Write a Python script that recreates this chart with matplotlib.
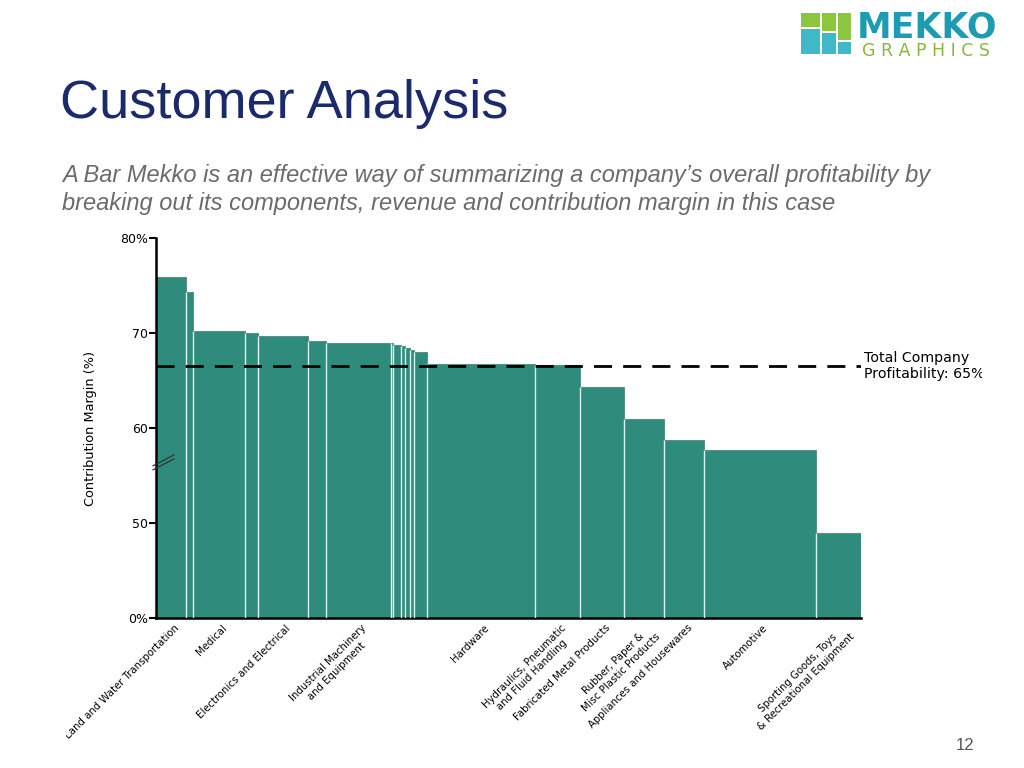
import matplotlib.pyplot as plt
from matplotlib.patches import Rectangle
from matplotlib.transforms import Bbox, TransformedBbox, blended_transform_factory
import numpy as np

# share of total revenue (%) and contribution margin (%) per segment
widths = [4.2, 1.0, 7.5, 1.8, 7.0, 2.6, 9.2, 0.4, 1.1, 0.6, 0.6, 0.6, 1.8,
          15.4, 6.4, 6.2, 5.7, 5.7, 15.8, 6.4]
margins = [75.9, 74.3, 70.2, 70.0, 69.7, 69.2, 68.95, 68.9, 68.75, 68.6, 68.4, 68.2, 68.0,
           66.75, 66.65, 64.3, 61.0, 58.7, 57.7, 48.9]
labels = ["Air, Land and Water Transportation", "", "Medical", "", "Electronics and Electrical", "",
          "Industrial Machinery\nand Equipment", "", "", "", "", "", "",
          "Hardware", "Hydraulics, Pneumatic\nand Fluid Handling", "Fabricated Metal Products",
          "Rubber, Paper &\nMisc Plastic Products", "Appliances and Housewares",
          "Automotive", "Sporting Goods, Toys\n& Recreational Equipment"]
total_margin = 66.5
yticks = [40, 50, 60, 70, 80]
ytick_labels = ["0%", "50", "60", "70", "80%"]

bar_color = '#2f8b7b'

fig = plt.figure(figsize=(10.24, 7.68), dpi=100)

# header
fig.text(60 / 1024, 1 - 118 / 768, "Customer Analysis", fontsize=39, color='#1b2a6b',
         family='Liberation Sans', va='baseline', ha='left')
fig.text(62 / 1024, 1 - 182 / 768,
         "A Bar Mekko is an effective way of summarizing a company\u2019s overall profitability by",
         fontsize=17, color='#6b6b6b', style='italic', family='Liberation Sans', va='baseline')
fig.text(62 / 1024, 1 - 210 / 768,
         "breaking out its components, revenue and contribution margin in this case",
         fontsize=17, color='#6b6b6b', style='italic', family='Liberation Sans', va='baseline')
fig.text(965 / 1024, 1 - 745 / 768, "12", fontsize=12, color='#555555',
         family='Liberation Sans', ha='center', va='center')

# logo
green, blue = '#8cc63e', '#3fb8c8'
for (x0, y0, x1, y1, c) in [(801, 13, 820, 27, green), (822, 13, 836, 31, green),
                            (838, 13, 851, 40, green), (801, 29, 820, 54, blue),
                            (822, 33, 836, 54, blue), (838, 42, 851, 54, blue)]:
    fig.patches.append(Rectangle((x0 / 1024, 1 - y1 / 768), (x1 - x0) / 1024, (y1 - y0) / 768,
                                 transform=fig.transFigure, color=c, lw=0))
fig.text(857 / 1024, 1 - 37 / 768, "MEKKO", fontsize=25, fontweight='bold', color='#1d9cb1',
         family='DejaVu Sans', va='baseline')
fig.text(862 / 1024, 1 - 56 / 768, "G R A P H I C S", fontsize=12.5, color='#8bb53c',
         family='DejaVu Sans', va='baseline')

# chart
ax = fig.add_axes([156 / 1024, 1 - 618 / 768, 704.7 / 1024, 380 / 768])
lefts = np.concatenate([[0], np.cumsum(widths)[:-1]])
centers = lefts + np.array(widths) / 2
ax.bar(lefts, np.array(margins) - 40, width=widths, bottom=40, align='edge',
       color=bar_color, edgecolor='#5e8f86', linewidth=0.8, zorder=2)
ax.vlines(lefts[1:], 40, np.minimum(margins[1:], np.array(margins[:-1])), color='#d9f4ee',
          linewidth=1.0, zorder=3)
ax.axhline(total_margin, color='black', linewidth=2, dashes=(6.5, 4), zorder=4)

ax.set_xlim(0, sum(widths))
ax.set_ylim(40, 80)
ax.set_yticks(yticks)
ax.set_yticklabels(ytick_labels)
ax.set_xticks([])
ax.tick_params(axis='y', length=5, width=1.5, labelsize=9, pad=1)
for s in ['top', 'right']:
    ax.spines[s].set_visible(False)
ax.spines['left'].set_linewidth(1.8)
ax.spines['bottom'].set_linewidth(1.8)
ax.set_ylabel("Contribution Margin (%)", fontsize=9.3, labelpad=16)

# axis break mark
for dy in (0, 0.42):
    ax.plot([-0.43, 2.55], [55.6 + dy, 56.75 + dy], color='#333333', lw=0.9,
            clip_on=False, zorder=5)

# x labels
xtrans = ax.get_xaxis_transform()
for c, lab in zip(centers, labels):
    if not lab:
        continue
    t = ax.text(c + 0.4, -0.013, lab, transform=xtrans, rotation=45, rotation_mode='anchor',
                ha='right', va='top', fontsize=7.3, multialignment='center')
    t.set_clip_path(None)
    t.set_clip_box(TransformedBbox(Bbox.from_extents(66 / 1024, 0, 1, 1), fig.transFigure))
    t.set_clip_on(True)

tt = ax.text(1.005, total_margin, "Total Company\nProfitability: 65%",
             transform=blended_transform_factory(ax.transAxes, ax.transData),
             ha='left', va='center', fontsize=10.2, linespacing=1.2)
tt.set_clip_path(None)
tt.set_clip_box(TransformedBbox(Bbox.from_extents(0, 0, 982 / 1024, 1), fig.transFigure))
tt.set_clip_on(True)

fig.savefig('out.png', dpi=100)
